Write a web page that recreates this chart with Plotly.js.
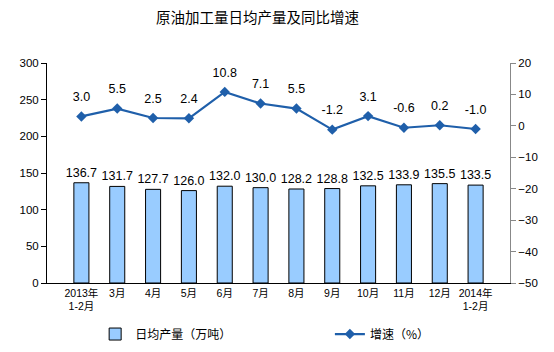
<!DOCTYPE html>
<html><head><meta charset="utf-8">
<script src="https://cdn.plot.ly/plotly-3.0.1.min.js"></script>
<style>body{margin:0;background:#fff}#c{width:554px;height:352px}</style>
</head><body><div id="c"></div>
<script>
const categories = ["2013年<br>1-2月","3月","4月","5月","6月","7月","8月","9月","10月","11月","12月","2014年<br>1-2月"];
const output = [136.7,131.7,127.7,126.0,132.0,130.0,128.2,128.8,132.5,133.9,135.5,133.5];
const growth = [3.0,5.5,2.5,2.4,10.8,7.1,5.5,-1.2,3.1,-0.6,0.2,-1.0];
const leftTicks = [0,50,100,150,200,250,300];
const rightTicks = [-50,-40,-30,-20,-10,0,10,20];

const F = "Liberation Sans, Arial, Noto Sans CJK SC, sans-serif";
const data = [
  {type:"bar", name:"日均产量（万吨）", x:categories, y:output,
   text:output.map(v=>v.toFixed(1)), textposition:"outside", cliponaxis:false, constraintext:"none",
   textfont:{size:12.5,color:"#000",family:F},
   marker:{color:"#99CCFF", line:{color:"#000", width:1}}, width:0.42, legend:"legend"},
  {type:"scatter", mode:"lines+markers", name:"增速（%）", x:categories, y:growth, yaxis:"y2",
   cliponaxis:false,
   line:{color:"#1F5FAA", width:2.2}, marker:{symbol:"diamond", size:8, color:"#1F5FAA"}, legend:"legend2"},
  {type:"scatter", mode:"markers+text", x:categories, y:growth, yaxis:"y2", showlegend:false,
   text:growth.map(v=>v.toFixed(1)), textposition:"top center", cliponaxis:false,
   textfont:{size:12.5,color:"#000",family:F},
   marker:{size:18, opacity:0}, hoverinfo:"skip"}
];
const LF = {size:12, family:"Noto Sans CJK SC, sans-serif", color:"#000"};
const layout = {
  width:554, height:352,
  margin:{l:47, r:44, t:63, b:69, autoexpand:false},
  paper_bgcolor:"#fff", plot_bgcolor:"#fff",
  font:{family:F, size:11, color:"#000"},
  title:{text:"原油加工量日均产量及同比增速", x:0.465, xanchor:"center", y:0.95, yanchor:"middle",
         font:{family:"Noto Sans CJK SC, sans-serif", size:14.5, color:"#000"}},
  xaxis:{type:"category", showline:true, linecolor:"#000", linewidth:1, ticks:"", mirror:false,
         tickfont:{size:10.5, family:F}, showgrid:false, fixedrange:true},
  yaxis:{range:[0,300], tickvals:leftTicks, showline:true, linecolor:"#000", linewidth:1,
         ticks:"outside", ticklen:5, tickcolor:"#000", showgrid:false, zeroline:false,
         tickfont:{size:11.5, family:F}},
  yaxis2:{range:[-50,20], tickvals:rightTicks, overlaying:"y", side:"right", showline:true,
          linecolor:"#888", linewidth:1, ticks:"outside", ticklen:5, tickcolor:"#888",
          showgrid:false, zeroline:false, tickfont:{size:11.5, family:F}},
  showlegend:true,
  legend:{orientation:"h", x:0.104, xanchor:"left", y:-0.232, yanchor:"middle", font:LF, bgcolor:"rgba(0,0,0,0)"},
  legend2:{orientation:"h", x:0.611, xanchor:"left", y:-0.232, yanchor:"middle", font:LF, bgcolor:"rgba(0,0,0,0)"}
};
Plotly.newPlot("c", data, layout, {staticPlot:true});
</script></body></html>
